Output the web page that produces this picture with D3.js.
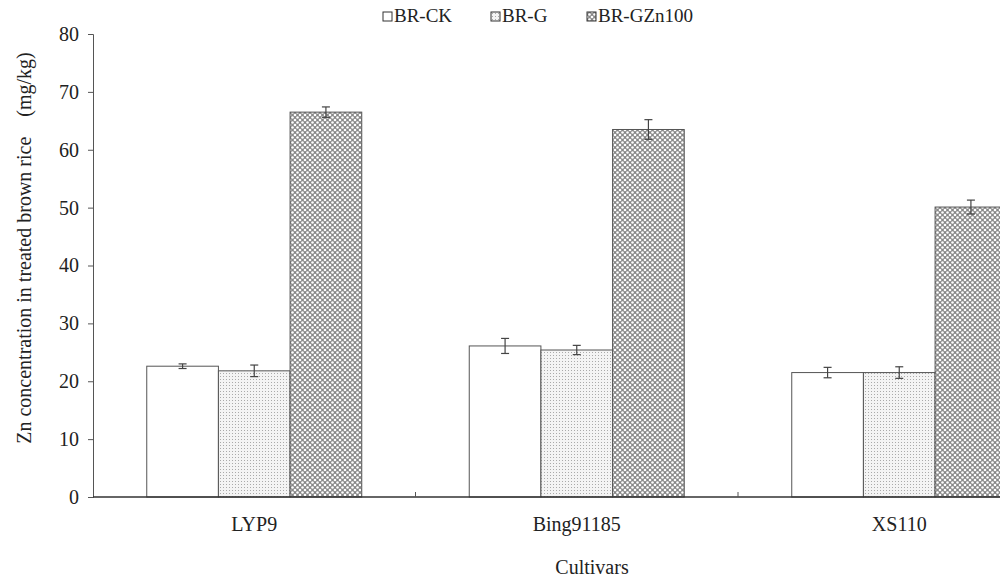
<!DOCTYPE html>
<html>
<head>
<meta charset="utf-8">
<script src="https://cdn.jsdelivr.net/npm/d3@7"></script>
<style>
  body { margin: 0; background: #fff; }
</style>
</head>
<body>
<div class="chart"></div>
<script>
// data
var cultivars = ["LYP9", "Bing91185", "XS110"];
var treatments = ["BR-CK", "BR-G", "BR-GZn100"];
var brCK = [22.6, 26.1, 21.5];
var brG = [21.8, 25.4, 21.5];
var brGZn = [66.5, 63.5, 50.1];
var errCK = [0.4, 1.3, 0.9];
var errG = [1.0, 0.8, 1.0];
var errGZn = [0.9, 1.7, 1.2];
var yTicks = [0, 10, 20, 30, 40, 50, 60, 70, 80];

var serif = "'Liberation Serif', 'Times New Roman', Times, serif";

function init() {
    var w = 1000, h = 578;
    var left = 93, top = 34, bottom = 497;
    var bandW = 322.5;

    var svg = d3.select(".chart").append("svg")
        .attr("width", w)
        .attr("height", h)
        .attr("font-family", serif);

    // patterns for the fills
    var defs = svg.append("defs");
    var pG = defs.append("pattern")
        .attr("id", "dots")
        .attr("patternUnits", "userSpaceOnUse")
        .attr("width", 3).attr("height", 3);
    pG.append("rect").attr("width", 3).attr("height", 3).attr("fill", "#f4f4f4");
    pG.append("rect").attr("x", 1).attr("y", 1).attr("width", 1).attr("height", 1).attr("fill", "#aaa");

    var pZ = defs.append("pattern")
        .attr("id", "cross")
        .attr("patternUnits", "userSpaceOnUse")
        .attr("width", 5).attr("height", 5);
    pZ.append("rect").attr("width", 5).attr("height", 5).attr("fill", "#888");
    [[2.5, 2.5], [0, 0], [5, 0], [0, 5], [5, 5]].forEach(function(c) {
        pZ.append("circle").attr("cx", c[0]).attr("cy", c[1]).attr("r", 1.3).attr("fill", "#fff");
    });

    var fills = ["#fff", "url(#dots)", "url(#cross)"];

    var xScale = d3.scaleBand()
        .domain(cultivars)
        .range([left, left + bandW * 3]);

    var xInner = d3.scaleBand()
        .domain(treatments)
        .range([0, 215])
        .padding(0);

    var yScale = d3.scaleLinear()
        .domain([0, 80])
        .range([bottom, top]);

    var data = cultivars.map(function(c, i) {
        return [
            {cultivar: c, t: treatments[0], v: brCK[i], e: errCK[i], k: 0},
            {cultivar: c, t: treatments[1], v: brG[i], e: errG[i], k: 1},
            {cultivar: c, t: treatments[2], v: brGZn[i], e: errGZn[i], k: 2}
        ];
    }).flat();

    function barX(d) {
        return xScale(d.cultivar) + (xScale.bandwidth() - 215) / 2 + xInner(d.t);
    }

    // bars
    svg.selectAll(".bar")
        .data(data)
        .enter().append("rect")
        .attr("class", "bar")
        .attr("x", barX)
        .attr("y", function(d) { return yScale(d.v); })
        .attr("width", xInner.bandwidth())
        .attr("height", function(d) { return bottom - yScale(d.v); })
        .attr("fill", function(d) { return fills[d.k]; })
        .attr("stroke", "#555")
        .attr("stroke-width", 1);

    // error bars
    var eb = svg.selectAll(".err")
        .data(data)
        .enter().append("g")
        .attr("class", "err")
        .attr("stroke", "#444")
        .attr("stroke-width", 1.2);
    eb.append("line")
        .attr("x1", function(d) { return barX(d) + xInner.bandwidth() / 2; })
        .attr("x2", function(d) { return barX(d) + xInner.bandwidth() / 2; })
        .attr("y1", function(d) { return yScale(d.v + d.e); })
        .attr("y2", function(d) { return yScale(d.v - d.e); });
    [1, -1].forEach(function(s) {
        eb.append("line")
            .attr("x1", function(d) { return barX(d) + xInner.bandwidth() / 2 - 4; })
            .attr("x2", function(d) { return barX(d) + xInner.bandwidth() / 2 + 4; })
            .attr("y1", function(d) { return yScale(d.v + s * d.e); })
            .attr("y2", function(d) { return yScale(d.v + s * d.e); });
    });

    // y axis
    var yAxis = d3.axisLeft(yScale)
        .tickValues(yTicks)
        .tickSize(5)
        .tickPadding(9);
    var gy = svg.append("g")
        .attr("transform", "translate(" + left + ",0)")
        .call(yAxis)
        .attr("font-family", serif)
        .attr("font-size", 20);
    gy.select(".domain").attr("stroke", "#555");
    gy.selectAll(".tick line").attr("stroke", "#555");
    gy.selectAll("text").attr("fill", "#222");

    // x axis line and ticks between groups
    svg.append("line")
        .attr("x1", left).attr("x2", w)
        .attr("y1", bottom).attr("y2", bottom)
        .attr("stroke", "#333")
        .attr("stroke-width", 1.5);
    svg.selectAll(".xtick")
        .data(cultivars.slice(1))
        .enter().append("line")
        .attr("class", "xtick")
        .attr("x1", function(d) { return xScale(d); })
        .attr("x2", function(d) { return xScale(d); })
        .attr("y1", bottom)
        .attr("y2", bottom - 5)
        .attr("stroke", "#555");

    svg.selectAll(".xlab")
        .data(cultivars)
        .enter().append("text")
        .attr("class", "xlab")
        .attr("x", function(d) { return xScale(d) + xScale.bandwidth() / 2; })
        .attr("y", 531)
        .attr("text-anchor", "middle")
        .attr("font-size", 20)
        .attr("fill", "#222")
        .text(function(d) { return d; });

    // axis titles
    svg.append("text")
        .attr("x", 592)
        .attr("y", 574)
        .attr("text-anchor", "middle")
        .attr("font-size", 20)
        .attr("fill", "#222")
        .text("Cultivars");

    svg.append("text")
        .attr("transform", "translate(31,248) rotate(-90)")
        .attr("text-anchor", "middle")
        .attr("font-size", 20)
        .style("white-space", "pre")
        .attr("fill", "#222")
        .text("Zn concentration in treated brown rice    (mg/kg)");

    // legend
    var legX = [383, 491, 587];
    var leg = svg.selectAll(".leg")
        .data(treatments)
        .enter().append("g")
        .attr("class", "leg")
        .attr("transform", function(d, i) { return "translate(" + legX[i] + ",12)"; });
    leg.append("rect")
        .attr("width", 9).attr("height", 9)
        .attr("fill", function(d, i) { return fills[i]; })
        .attr("stroke", "#333");
    leg.append("text")
        .attr("x", 11)
        .attr("y", 10)
        .attr("font-size", 19)
        .attr("fill", "#222")
        .text(function(d) { return d; });
}

window.onload = init;
</script>
</body>
</html>
